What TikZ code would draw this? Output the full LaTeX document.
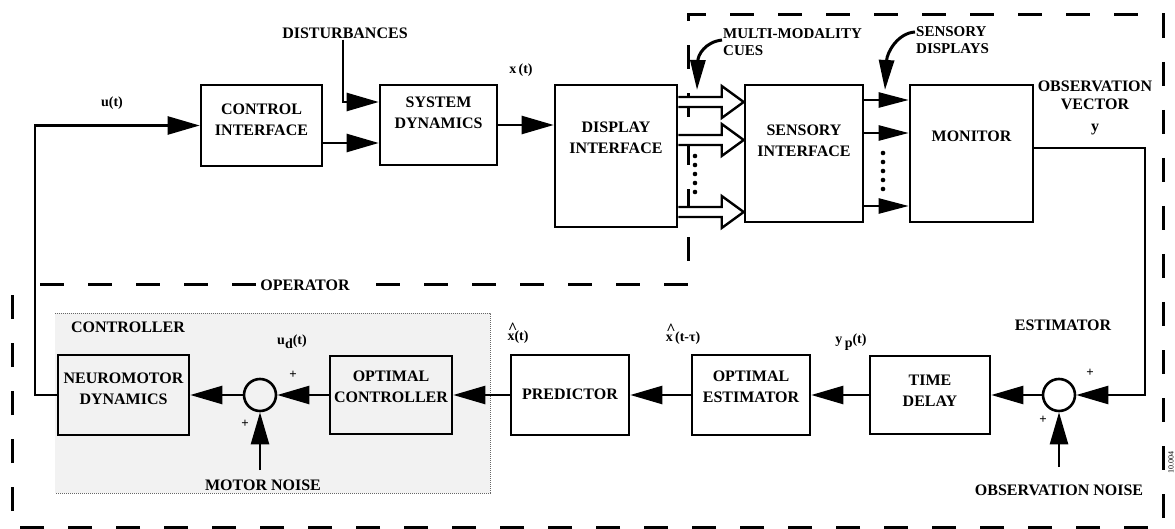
\documentclass[tikz,border=0pt]{standalone}
\usepackage{fontspec}
\setmainfont{Liberation Serif}
\usetikzlibrary{arrows.meta,calc}
\newcommand\hatx{\makebox[0pt][l]{\hspace{0.5pt}\raisebox{7pt}{\fontsize{16}{16}\selectfont\^{}}}x}
\begin{document}
\begin{tikzpicture}[x=1pt,y=-1pt,
  box/.style={draw, line width=2.6pt, inner sep=0pt},
  lbl/.style={font=\fontsize{16}{21}\selectfont\bfseries, align=center, inner sep=1pt},
  cue/.style={font=\fontsize{15}{17}\selectfont\bfseries, align=left, inner sep=1pt},
  small/.style={font=\fontsize{14}{16}\selectfont\bfseries, inner sep=1pt},
  arr/.style={line width=2.4pt, -{Triangle[length=32pt,width=18pt]}},
  arrs/.style={line width=2.4pt, -{Triangle[length=30pt,width=15pt]}},
  carr/.style={line width=3pt, -{Triangle[length=30pt,width=15pt]}},
  bnd/.style={line width=3pt, dash pattern=on 24pt off 24pt},
  hollow/.style={line width=2.4pt, fill=white, line join=miter},
  sumc/.style={draw, circle, line width=2.6pt, minimum size=32pt, inner sep=0pt},
  plus/.style={font=\fontsize{13}{13}\selectfont\bfseries, inner sep=0pt},
]
\useasboundingbox (0,0) rectangle (1175,529);

% shaded controller region
\fill[black!5] (55,313) rectangle (490,493);
\draw[line width=1pt, densely dotted, black!60] (55,313) -- (490,313) -- (490,493) -- (55,493);

% operator boundary
\draw[bnd] (40,285) -- (688,285) -- (688,15) -- (1163,15) -- (1163,527) -- (12,527) -- (12,285);
\node[lbl, fill=white, inner sep=3pt] (OPt) at (305,285) {OPERATOR};

% top row boxes
\node[box, minimum width=121pt, minimum height=81pt] (CI) at (261.5,125.5) {};
\node[lbl] (CIt) at ([yshift=6pt]CI.center) {CONTROL\\INTERFACE};
\node[box, minimum width=117pt, minimum height=80pt] (SD) at (438.5,125) {};
\node[lbl] (SDt) at ([yshift=12pt]SD.center) {SYSTEM\\DYNAMICS};
\node[box, minimum width=122pt, minimum height=142pt] (DI) at (616,156) {};
\node[lbl] (DIt) at ([yshift=18pt]DI.center) {DISPLAY\\INTERFACE};
\node[box, minimum width=118pt, minimum height=137pt] (SI) at (804,153.5) {};
\node[lbl] (SIt) at ([yshift=13pt]SI.center) {SENSORY\\INTERFACE};
\node[box, minimum width=123pt, minimum height=137pt] (MON) at (971.5,153.5) {};
\node[lbl] (MONt) at ([yshift=17pt]MON.center) {MONITOR};

% bottom row boxes
\node[box, minimum width=131pt, minimum height=80pt] (NM) at (123.5,395) {};
\node[lbl] (NMt) at ([yshift=6pt]NM.center) {NEUROMOTOR\\DYNAMICS};
\node[box, minimum width=122pt, minimum height=78pt] (OC) at (391,395) {};
\node[lbl] (OCt) at ([yshift=8pt]OC.center) {OPTIMAL\\CONTROLLER};
\node[box, minimum width=118pt, minimum height=80pt] (PR) at (570,395) {};
\node[lbl] (PRt) at ([yshift=1pt]PR.center) {PREDICTOR};
\node[box, minimum width=118pt, minimum height=80pt] (OE) at (751,395) {};
\node[lbl] (OEt) at ([yshift=8pt]OE.center) {OPTIMAL\\ESTIMATOR};
\node[box, minimum width=120pt, minimum height=78pt] (TD) at (930,395) {};
\node[lbl] (TDt) at ([yshift=4pt]TD.center) {TIME\\DELAY};

\node[sumc] (S1) at (260,395) {};
\node[sumc] (S2) at (1059,395) {};

% labels
\node[small] (ut) at (112,103) {u(t)};
\node[small] (xt) at (521,70) {x\,(t)};
\node[lbl] (DIST) at (345,33) {DISTURBANCES};
\node[small] (xh) at (518,333) {\hatx(t)};
\node[small] (xht) at (683,334) {\hatx\,(t-τ)};
\node[small] (yp) at (851,342) {y\,\raisebox{-4pt}{p}(t)};
\node[small] (ud) at (292,342) {u\raisebox{-4pt}{d}(t)};
\node[lbl] (CTRL) at (128,327) {CONTROLLER};
\node[lbl] (EST) at (1063,325) {ESTIMATOR};
\node[lbl] (MN) at (263,485) {MOTOR NOISE};
\node[lbl] (ON) at (1059,490) {OBSERVATION NOISE};
\node[lbl, font=\fontsize{16}{18}\selectfont\bfseries] (OV) at (1095,108) {OBSERVATION\\VECTOR\\[4pt]y};
\node[cue, anchor=west] (MMC) at (722,42) {MULTI-MODALITY\\CUES};
\node[cue, anchor=west] (SDP) at (915,40) {SENSORY\\DISPLAYS};
\node[font=\fontsize{8}{8}\selectfont, rotate=90, inner sep=0pt] (fig) at (1171,462) {10.004};

\node[plus] (p1) at (293,375) {+};
\node[plus] (p2) at (245,424) {+};
\node[plus] (p3) at (1090,373) {+};
\node[plus] (p4) at (1043,420) {+};

% coordinates
\coordinate (fbL) at (35,125.5);
\coordinate (dc) at (343,102);
\coordinate (rc) at (1145,395);
\coordinate (mn) at (260,470);
\coordinate (on) at (1059,467);
\coordinate (mmtip) at (697,90);
\coordinate (sdtip) at (885,90);

% top row connectors
\draw[arr] (NM.west) -| (fbL) -- (CI.west);
\draw[arr] ([yshift=-17.5pt]CI.east) -- ([yshift=-17.5pt]CI.east -| SD.west);
\draw[arr] (DIST.south -| dc) -- (dc) -- (dc -| SD.west);
\draw[arr] (SD.east) -- (SD.east -| DI.west);

% hollow arrows DI -> SI
\foreach \c in {102,140,212}{
  \path (DI.east |- 0,\c) coordinate (ha) (SI.west |- 0,\c) coordinate (hb);
  \draw[hollow] ([yshift=5pt]ha) -- ([xshift=-22pt,yshift=5pt]hb) -- ([xshift=-22pt,yshift=16pt]hb) -- (hb)
     -- ([xshift=-22pt,yshift=-16pt]hb) -- ([xshift=-22pt,yshift=-5pt]hb) -- ([yshift=-5pt]ha);
}
\foreach \yy in {156,165,174,183,192} \fill (695,\yy) circle (2.3pt);

% SI -> MON
\foreach \c in {100,133,206}{
  \draw[arrs] (SI.east |- 0,\c) -- (MON.west |- 0,\c);
}
\foreach \yy in {153,162,171,180,189} \fill (883,\yy) circle (2.3pt);

% curved pointer arrows
\draw[carr] ([yshift=2pt]MMC.west) .. controls (705,42) and (698,55) .. (mmtip);
\draw[carr] ([yshift=8pt]SDP.west) .. controls (898,33) and (887,52) .. (sdtip);

% feedback from monitor
\draw[arr] ([yshift=5.5pt]MON.east) -| (rc) -- (S2);

% bottom row connectors
\draw[arr] (S2) -- (TD);
\draw[arr] (TD) -- (OE);
\draw[arr] (OE) -- (PR);
\draw[arr] (PR) -- (OC);
\draw[arr] (OC) -- (S1);
\draw[arr] (S1) -- (NM);
\draw[arr] (mn) -- (S1);
\draw[arr] (on) -- (S2);
\end{tikzpicture}
\end{document}
